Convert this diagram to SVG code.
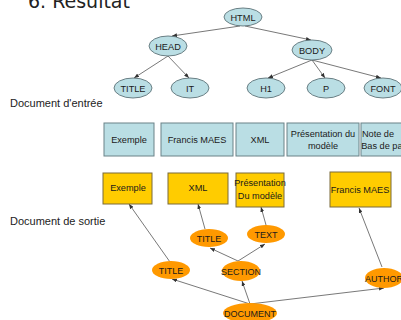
<svg xmlns="http://www.w3.org/2000/svg" width="401" height="320" viewBox="0 0 401 320">
<defs>
<marker id="ah" markerUnits="userSpaceOnUse" markerWidth="5" markerHeight="4" refX="5" refY="2" orient="auto"><path d="M0,0 L5,2 L0,4 z" fill="#333"/></marker>
<style>
.be{fill:#BADEE4;stroke:#5E7378;stroke-width:0.9}
.bb{fill:#BADEE4;stroke:#6A8287;stroke-width:1}
.yb{fill:#FFCC00;stroke:#7A6B3A;stroke-width:1}
.oe{fill:#FF9900}
.t{font-family:"Liberation Sans",Arial,sans-serif;font-size:9.2px;fill:#1a1a1a;text-anchor:middle}
.o{font-family:"Liberation Sans",Arial,sans-serif;font-size:9px;fill:#1a1a1a;text-anchor:middle}
.lab{font-family:"Liberation Sans",Arial,sans-serif;font-size:11px;fill:#222}
.c{stroke:#555;stroke-width:0.8;fill:none;marker-end:url(#ah)}
</style>
</defs>
<rect width="401" height="320" fill="#fff"/>
<text x="28" y="8" font-family="'DejaVu Sans',Verdana,sans-serif" font-size="19" fill="#222">6. Résultat</text>
<text class="lab" x="10" y="107">Document d'entrée</text>
<text class="lab" x="10" y="225">Document de sortie</text>
<g id="connectors">
<line class="c" x1="240" y1="26" x2="172" y2="36"/>
<line class="c" x1="245" y1="26" x2="311" y2="40"/>
<line class="c" x1="168" y1="56" x2="134" y2="78"/>
<line class="c" x1="168" y1="56" x2="189" y2="78"/>
<line class="c" x1="312" y1="60" x2="268" y2="78"/>
<line class="c" x1="312" y1="60" x2="325" y2="78"/>
<line class="c" x1="312" y1="60" x2="381" y2="78"/>
<line class="c" x1="250" y1="304" x2="172" y2="279"/>
<line class="c" x1="250" y1="304" x2="242" y2="281"/>
<line class="c" x1="250" y1="304" x2="384" y2="288"/>
<line class="c" x1="238" y1="261" x2="210" y2="248"/>
<line class="c" x1="238" y1="261" x2="265" y2="244"/>
<line class="c" x1="205" y1="229" x2="198" y2="204"/>
<line class="c" x1="266" y1="225" x2="261" y2="207"/>
<line class="c" x1="170" y1="262" x2="129" y2="204"/>
<line class="c" x1="382" y1="267" x2="359" y2="208"/>
</g>
<g id="html"><ellipse class="be" cx="243" cy="17" rx="19" ry="9"/><text class="t" x="243" y="20.5">HTML</text></g>
<g id="head"><ellipse class="be" cx="168" cy="46" rx="19" ry="10"/><text class="t" x="168" y="49.5">HEAD</text></g>
<g id="body"><ellipse class="be" cx="312" cy="50" rx="20" ry="10"/><text class="t" x="312" y="53.5">BODY</text></g>
<g id="title-in"><ellipse class="be" cx="133" cy="88" rx="19" ry="10"/><text class="t" x="133" y="91.5">TITLE</text></g>
<g id="it"><ellipse class="be" cx="190" cy="88" rx="19" ry="10"/><text class="t" x="190" y="91.5">IT</text></g>
<g id="h1"><ellipse class="be" cx="266" cy="88" rx="19" ry="10"/><text class="t" x="266" y="91.5">H1</text></g>
<g id="p"><ellipse class="be" cx="326" cy="88" rx="19" ry="10"/><text class="t" x="326" y="91.5">P</text></g>
<g id="font"><ellipse class="be" cx="383" cy="88" rx="19" ry="10"/><text class="t" x="383" y="91.5">FONT</text></g>
<g id="b-exemple"><rect class="bb" x="104" y="123" width="50" height="33"/><text class="t" x="129" y="143">Exemple</text></g>
<g id="b-francis"><rect class="bb" x="161" y="123" width="72" height="33"/><text class="t" x="197" y="143">Francis MAES</text></g>
<g id="b-xml"><rect class="bb" x="236" y="123" width="48" height="33"/><text class="t" x="260" y="143">XML</text></g>
<g id="b-pres"><rect class="bb" x="287" y="123" width="72" height="33"/><text class="t" x="323" y="137">Présentation du</text><text class="t" x="323" y="149">modèle</text></g>
<g id="b-note"><rect class="bb" x="361" y="123" width="52" height="33"/><text class="t" x="378" y="137">Note de</text><text class="t" x="387" y="149">Bas de page</text></g>
<g id="y-exemple"><rect class="yb" x="103" y="173" width="49" height="31"/><text class="t" x="128" y="191">Exemple</text></g>
<g id="y-xml"><rect class="yb" x="168" y="173" width="60" height="31"/><text class="t" x="198" y="191">XML</text></g>
<g id="y-pres"><rect class="yb" x="236" y="173" width="48" height="34"/><text class="t" x="260" y="186">Présentation</text><text class="t" x="260" y="199">Du modèle</text></g>
<g id="y-francis"><rect class="yb" x="330" y="172" width="61" height="35"/><text class="t" x="360" y="193">Francis MAES</text></g>
<g id="o-title2"><ellipse class="oe" cx="209" cy="238" rx="19" ry="9"/><text class="o" x="209" y="241.5">TITLE</text></g>
<g id="o-text"><ellipse class="oe" cx="266" cy="234" rx="19" ry="9"/><text class="o" x="266" y="237.5">TEXT</text></g>
<g id="o-title1"><ellipse class="oe" cx="171" cy="270" rx="19" ry="9"/><text class="o" x="171" y="273.5">TITLE</text></g>
<g id="o-section"><ellipse class="oe" cx="241" cy="271" rx="19" ry="10"/><text class="o" x="241" y="274.5">SECTION</text></g>
<g id="o-author"><ellipse class="oe" cx="384" cy="278" rx="19" ry="10"/><text class="o" x="384" y="281.5">AUTHOR</text></g>
<g id="o-document"><ellipse class="oe" cx="250" cy="313" rx="27" ry="10"/><text class="o" x="250" y="316.5">DOCUMENT</text></g>
</svg>
